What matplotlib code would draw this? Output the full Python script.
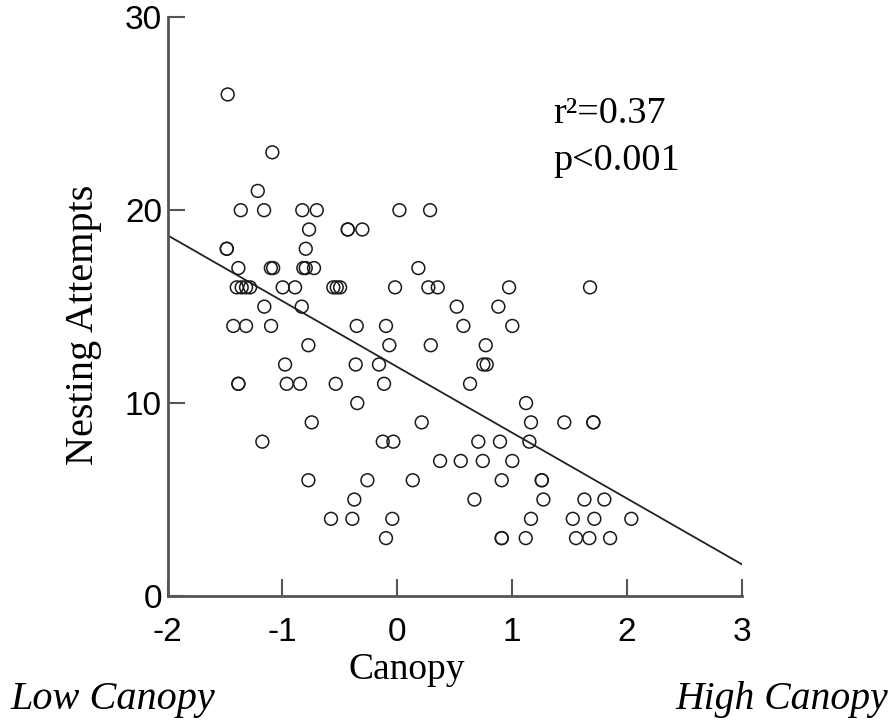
import matplotlib
matplotlib.use('Agg')
import matplotlib.pyplot as plt

plt.rcParams['axes.unicode_minus'] = False

# Canopy score and nesting attempts
canopy = [
    -1.476, -1.087, -1.214,
    -1.362, -1.159, -0.826, -0.700, 0.020, 0.287,
    -0.767, -0.430, -0.430, -0.303,
    -1.484, -1.484, -0.796,
    -1.383, -1.100, -1.080, -0.817, -0.796, -0.724, 0.185,
    -1.397, -1.354, -1.316, -1.281, -0.997, -0.889, -0.556, -0.526, -0.497, -0.018,
    0.272, 0.354, 0.975, 1.680,
    -1.157, -0.831, 0.519, 0.882,
    -1.427, -1.316, -1.098, -0.352, -0.097, 0.577, 1.003,
    -0.773, -0.068, 0.293, 0.772,
    -0.976, -0.361, -0.158, 0.751, 0.780,
    -1.383, -1.383, -0.962, -0.846, -0.535, -0.114, 0.635,
    -0.347, 1.123,
    -0.744, 0.214, 1.166, 1.456, 1.709, 1.709,
    -1.174, -0.125, -0.033, 0.707, 0.896, 1.152,
    0.374, 0.554, 0.746, 1.003,
    -0.773, -0.259, 0.136, 0.911, 1.260, 1.260,
    -0.373, 0.673, 1.274, 1.631, 1.805,
    -0.576, -0.390, -0.042, 1.166, 1.530, 1.718, 2.040,
    -0.097, 0.911, 0.911, 1.120, 1.558, 1.674, 1.855,
]
attempts = [
    26, 23, 21,
    20, 20, 20, 20, 20, 20,
    19, 19, 19, 19,
    18, 18, 18,
    17, 17, 17, 17, 17, 17, 17,
    16, 16, 16, 16, 16, 16, 16, 16, 16, 16,
    16, 16, 16, 16,
    15, 15, 15, 15,
    14, 14, 14, 14, 14, 14, 14,
    13, 13, 13, 13,
    12, 12, 12, 12, 12,
    11, 11, 11, 11, 11, 11, 11,
    10, 10,
    9, 9, 9, 9, 9, 9,
    8, 8, 8, 8, 8, 8,
    7, 7, 7, 7,
    6, 6, 6, 6, 6, 6,
    5, 5, 5, 5, 5,
    4, 4, 4, 4, 4, 4, 4,
    3, 3, 3, 3, 3, 3, 3,
]

# regression line end points as drawn in the reference
fit_x = [-2, 3]
fit_y = [18.7, 1.65]

x_ticks = [-2, -1, 0, 1, 2, 3]
y_ticks = [0, 10, 20, 30]

W, H = 893, 721
fig = plt.figure(figsize=(W / 100, H / 100), dpi=100)
ax = fig.add_axes([0.1876, 0.1734, 0.6428, 0.8026])

ax.scatter(canopy, attempts, s=85, facecolors='none', edgecolors='#1a1a1a',
           linewidths=1.1, zorder=3, clip_on=False)
ax.plot(fit_x, fit_y, color='#222222', linewidth=1.3, zorder=2)

ax.set_xlim(-2, 3)
ax.set_ylim(0, 30)
ax.set_xticks(x_ticks)
ax.set_yticks(y_ticks)

for side in ['top', 'right']:
    ax.spines[side].set_visible(False)
for side in ['left', 'bottom']:
    ax.spines[side].set_color('#555555')
    ax.spines[side].set_linewidth(2)

ax.tick_params(direction='in', length=12, width=1.5, color='#555555',
               labelsize=24)
ax.tick_params(axis='x', pad=15)
ax.tick_params(axis='y', pad=4)
for lab in ax.get_xticklabels() + ax.get_yticklabels():
    lab.set_fontfamily('Liberation Sans')

serif = 'Liberation Serif'
fig.text(553 / W, 1 - 123 / H, 'r²=0.37', fontsize=27.5, family=serif,
         va='baseline', ha='left')
fig.text(553 / W, 1 - 170 / H, 'p<0.001', fontsize=27.5, family=serif,
         va='baseline', ha='left')

fig.text(407 / W, 1 - 679 / H, 'Canopy', fontsize=27, family=serif,
         ha='center', va='baseline')
fig.text(84 / W, 1 - 325 / H, 'Nesting Attempts', fontsize=29,
         family=serif, ha='center', va='center', rotation=90)
fig.text(10 / W, 1 - 709 / H, 'Low Canopy', fontsize=29, family=serif,
         style='italic', ha='left', va='baseline')
fig.text(888 / W, 1 - 709 / H, 'High Canopy', fontsize=28.5, family=serif,
         style='italic', ha='right', va='baseline')

fig.savefig('out.png', dpi=100)
